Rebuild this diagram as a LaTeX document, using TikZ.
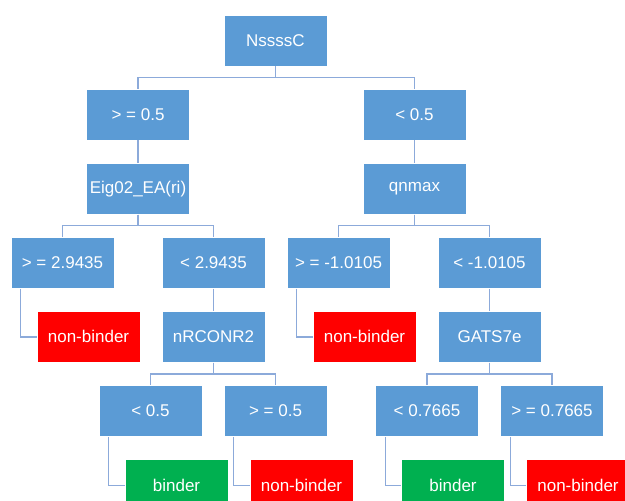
\documentclass[tikz,border=0pt]{standalone}
\usepackage{fontspec}
\setmainfont{Liberation Sans}
\usetikzlibrary{positioning}
\definecolor{boxblue}{RGB}{91,155,213}
\definecolor{leafred}{RGB}{255,0,0}
\definecolor{leafgreen}{RGB}{0,176,80}
\definecolor{linkblue}{RGB}{140,170,218}

\begin{document}
\begin{tikzpicture}[x=1pt,y=1pt,
splitnode/.style={rectangle, draw=white, line width=0.6pt, fill=boxblue, text=white, minimum width=103pt, minimum height=51pt, inner sep=1pt, font=\fontsize{17}{20}\selectfont},
badleaf/.style={splitnode, fill=leafred},
goodleaf/.style={splitnode, fill=leafgreen},
link/.style={draw=linkblue, line width=1.2pt},
node distance=22.5pt
]
\path[use as bounding box, fill=white] (0,0) rectangle (625,-501);

%Nodes
\node[splitnode]        (root)  at (275.5,-40.5)                    {NssssC};
\node[splitnode]        (ge)    [below=of root, xshift=-137.5pt]   {> = 0.5};
\node[splitnode]        (lt)    [below=of root, xshift=139pt]      {< 0.5};
\node[splitnode]        (eig)   [below=of ge]                       {Eig02\_EA(ri)};
\node[splitnode]        (qn)    [below=of lt]                       {qnmax};
\node[splitnode]        (ge29)  [below=of eig, xshift=-75.5pt]     {> = 2.9435};
\node[splitnode]        (lt29)  [below=of eig, xshift=75.5pt]      {< 2.9435};
\node[splitnode]        (gem1)  [below=of qn, xshift=-76pt]        {> = -1.0105};
\node[splitnode]        (ltm1)  [below=of qn, xshift=75pt]         {< -1.0105};
\node[badleaf]          (nb1)   [below=of ge29, xshift=26pt]       {non-binder};
\node[splitnode]        (nrc)   [below=of lt29]                     {nRCONR2};
\node[badleaf]          (nb2)   [below=of gem1, xshift=26pt]       {non-binder};
\node[splitnode]        (gats)  [below=of ltm1]                     {GATS7e};
\node[splitnode]        (lt05)  [below=of nrc, xshift=-63pt]       {< 0.5};
\node[splitnode]        (ge05)  [below=of nrc, xshift=62pt]        {> = 0.5};
\node[splitnode]        (lt77)  [below=of gats, xshift=-62.5pt]    {< 0.7665};
\node[splitnode]        (ge77)  [below=of gats, xshift=62.5pt]     {> = 0.7665};
\node[goodleaf]         (bd1)   [below=of lt05, xshift=26pt]       {binder};
\node[badleaf]          (nb3)   [below=of ge05, xshift=26pt]       {non-binder};
\node[goodleaf]         (bd2)   [below=of lt77, xshift=26pt]       {binder};
\node[badleaf]          (nb4)   [below=of ge77, xshift=26pt]       {non-binder};

%Lines
\draw[link] (root.south) -- ++(0,-11.25) -| (ge.north);
\draw[link] (root.south) -- ++(0,-11.25) -| (lt.north);
\draw[link] (ge.south) -- (eig.north);
\draw[link] (lt.south) -- (qn.north);
\draw[link] (eig.south) -- ++(0,-11.25) -| (ge29.north);
\draw[link] (eig.south) -- ++(0,-11.25) -| (lt29.north);
\draw[link] (qn.south) -- ++(0,-11.25) -| (gem1.north);
\draw[link] (qn.south) -- ++(0,-11.25) -| (ltm1.north);
\draw[link] (lt29.south) -- (nrc.north);
\draw[link] (ltm1.south) -- (gats.north);
\draw[link] (nrc.south) -- ++(0,-11.25) -| (lt05.north);
\draw[link] (nrc.south) -- ++(0,-11.25) -| (ge05.north);
\draw[link] (gats.south) -- ++(0,-11.25) -| (lt77.north);
\draw[link] (gats.south) -- ++(0,-11.25) -| (ge77.north);

\draw[link] ([xshift=10pt]ge29.south west) |- (nb1.west);
\draw[link] ([xshift=10pt]gem1.south west) |- (nb2.west);
\draw[link] ([xshift=10pt]lt05.south west) |- (bd1.west);
\draw[link] ([xshift=10pt]ge05.south west) |- (nb3.west);
\draw[link] ([xshift=10pt]lt77.south west) |- (bd2.west);
\draw[link] ([xshift=10pt]ge77.south west) |- (nb4.west);

\end{tikzpicture}
\end{document}
